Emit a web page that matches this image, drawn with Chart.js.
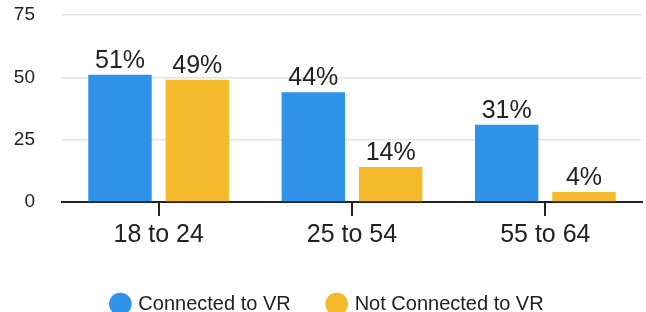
<!DOCTYPE html>
<html>
<head>
<meta charset="utf-8">
<script src="https://cdn.jsdelivr.net/npm/chart.js@4"></script>
<style>
    html, body { margin: 0; padding: 0; background: #fff; }
    #wrap { width: 646px; height: 312px; }
</style>
</head>
<body>
<div id="wrap"><canvas id="vr-chart"></canvas></div>
<script>
const ageGroups = ['18 to 24', '25 to 54', '55 to 64'];
const connected = [51, 44, 31];
const notConnected = [49, 14, 4];
const seriesNames = ['Connected to VR', 'Not Connected to VR'];
const yTicks = [0, 25, 50, 75];

// draws the "51%" style labels above each bar
const valueLabels = {
    id: 'valueLabels',
    afterDatasetsDraw(chart) {
        const ctx = chart.ctx;
        ctx.save();
        ctx.font = '25px "Liberation Sans", Arial, sans-serif';
        ctx.fillStyle = '#222';
        ctx.textAlign = 'center';
        ctx.textBaseline = 'alphabetic';
        chart.data.datasets.forEach((ds, i) => {
            chart.getDatasetMeta(i).data.forEach((bar, j) => {
                ctx.fillText(ds.data[j] + '%', bar.x, bar.y - 7);
            });
        });
        ctx.restore();
    }
};

new Chart(document.getElementById('vr-chart').getContext('2d'), {
    type: 'bar',
    data: {
        labels: ageGroups,
        datasets: [{
            label: seriesNames[0],
            data: connected,
            backgroundColor: '#2E93E9'
        }, {
            label: seriesNames[1],
            data: notConnected,
            backgroundColor: '#F5BA2B'
        }]
    },
    options: {
        responsive: true,
        maintainAspectRatio: false,
        animation: false,
        categoryPercentage: 0.8,
        barPercentage: 0.82,
        layout: {
            padding: { left: 14, right: 4, top: 15, bottom: 0 }
        },
        scales: {
            x: {
                grid: {
                    offset: false,
                    drawOnChartArea: false,
                    drawTicks: true,
                    tickLength: 14,
                    color: '#222',
                    lineWidth: 2
                },
                border: { color: '#222', width: 2 },
                ticks: {
                    padding: 4,
                    color: '#222',
                    font: { family: '"Liberation Sans", Arial, sans-serif', size: 25 }
                },
                afterFit(scale) {
                    scale.height = 54;
                }
            },
            y: {
                min: 0,
                max: 75,
                afterBuildTicks(axis) {
                    axis.ticks = yTicks.map(v => ({ value: v }));
                },
                afterFit(scale) {
                    scale.width = 48;
                },
                grid: {
                    drawTicks: true,
                    tickLength: 24,
                    tickColor: 'rgba(0,0,0,0)',
                    color: '#e4e4e4',
                    lineWidth: 1.5
                },
                border: { display: false },
                ticks: {
                    padding: 3,
                    color: '#222',
                    font: { family: '"Liberation Sans", Arial, sans-serif', size: 19 }
                }
            }
        },
        plugins: {
            legend: {
                position: 'bottom',
                maxHeight: 56,
                labels: {
                    usePointStyle: true,
                    pointStyle: 'circle',
                    boxWidth: 16,
                    boxHeight: 16,
                    padding: 38,
                    color: '#222',
                    font: { family: '"Liberation Sans", Arial, sans-serif', size: 20 }
                }
            },
            tooltip: { enabled: false }
        }
    },
    plugins: [valueLabels]
});
</script>
</body>
</html>
